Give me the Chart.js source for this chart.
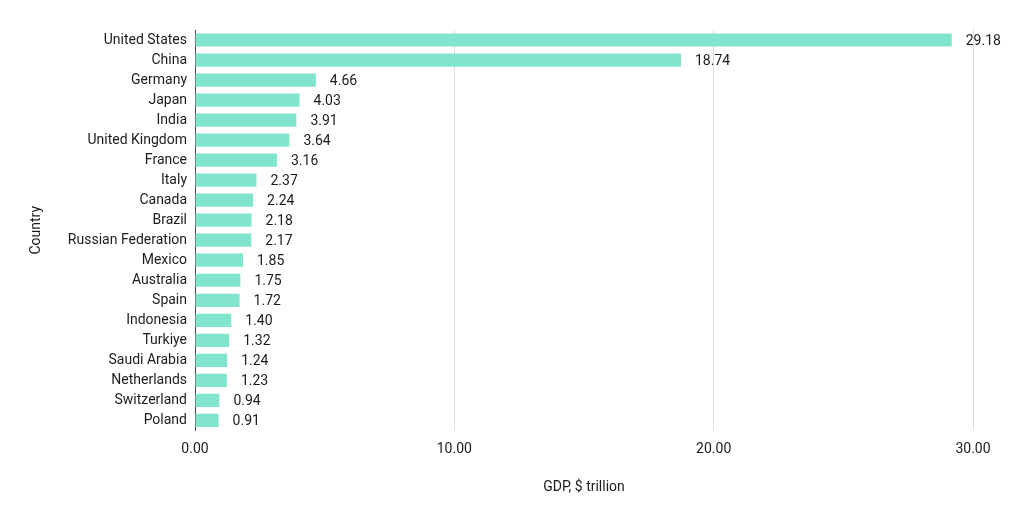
<!DOCTYPE html>
<html>
<head>
<meta charset="utf-8">
<script src="https://cdn.jsdelivr.net/npm/chart.js@4.4.0/dist/chart.umd.min.js"></script>
<style>
  html, body { margin: 0; padding: 0; background: #fff; }
  #wrap { width: 1024px; height: 517px; }
</style>
</head>
<body>
<div id="wrap"><canvas id="grafico"></canvas></div>
<script>
// Países e PIB (US$ trilhões)
const paises = ['United States', 'China', 'Germany', 'Japan', 'India', 'United Kingdom', 'France', 'Italy',
    'Canada', 'Brazil', 'Russian Federation', 'Mexico', 'Australia', 'Spain', 'Indonesia', 'Turkiye',
    'Saudi Arabia', 'Netherlands', 'Switzerland', 'Poland'];
const pib = [29.18, 18.74, 4.66, 4.03, 3.91, 3.64, 3.16, 2.37, 2.24, 2.18, 2.17, 1.85, 1.75, 1.72, 1.40, 1.32,
    1.24, 1.23, 0.94, 0.91];
const ticksX = [0, 10, 20, 30];

const corBarra = '#80e5cc';
const corTexto = '#1c1c1c';

Chart.defaults.font.family = 'Roboto, "Liberation Sans", Arial, sans-serif';
Chart.defaults.font.size = 14;
Chart.defaults.color = corTexto;

// rótulos de valor ao lado das barras
const rotulosValor = {
    id: 'rotulosValor',
    afterDatasetsDraw(chart) {
        const ctx = chart.ctx;
        const meta = chart.getDatasetMeta(0);
        ctx.save();
        ctx.font = '14px ' + Chart.defaults.font.family;
        ctx.fillStyle = corTexto;
        ctx.textBaseline = 'middle';
        ctx.textAlign = 'left';
        meta.data.forEach((bar, i) => {
            ctx.fillText(pib[i].toFixed(2), bar.x + 14, bar.y + 1);
        });
        ctx.restore();
    }
};

new Chart(document.getElementById('grafico').getContext('2d'), {
    type: 'bar',
    data: {
        labels: paises,
        datasets: [{
            label: 'GDP, $ trillion',
            data: pib,
            backgroundColor: corBarra,
            borderWidth: 0,
            barPercentage: 0.66,
            categoryPercentage: 1.0
        }]
    },
    options: {
        indexAxis: 'y',
        responsive: true,
        maintainAspectRatio: false,
        animation: false,
        layout: { padding: { left: 28, right: 51, top: 30, bottom: 21 } },
        plugins: {
            legend: { display: false },
            tooltip: { enabled: false }
        },
        scales: {
            x: {
                min: ticksX[0],
                max: ticksX[ticksX.length - 1],
                afterBuildTicks: (axis) => { axis.ticks = ticksX.map(v => ({ value: v })); },
                ticks: {
                    padding: 11,
                    callback: (v) => Number(v).toFixed(2)
                },
                grid: { color: '#dedede', drawTicks: false, lineWidth: 1 },
                border: { display: false },
                title: { display: true, text: 'GDP, $ trillion', padding: { top: 10, bottom: 0 } }
            },
            y: {
                grid: { display: false, drawTicks: false },
                border: { display: true, color: '#444', width: 1 },
                ticks: { padding: 8, autoSkip: false },
                title: { display: true, text: 'Country', padding: { top: 0, bottom: 12 } },
                afterFit: (axis) => { axis.width = 167; }
            }
        }
    },
    plugins: [rotulosValor]
});
</script>
</body>
</html>
